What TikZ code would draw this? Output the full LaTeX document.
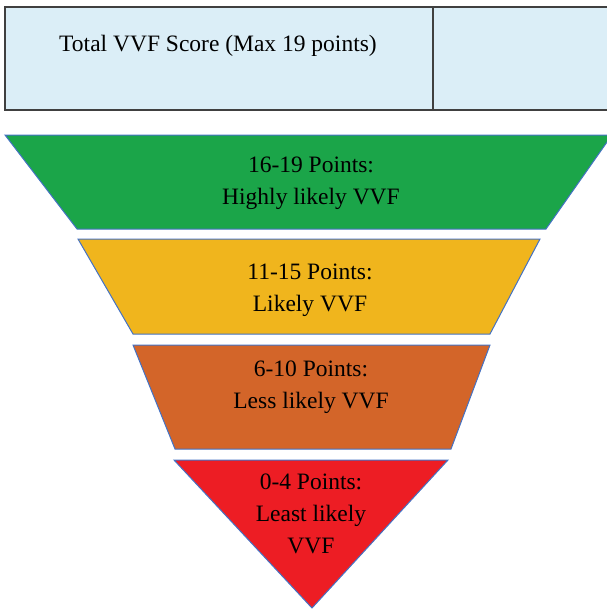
\documentclass[tikz,border=0pt]{standalone}
\usepackage{fontspec}
\setmainfont{Liberation Serif}
\usepackage{tikz}
\definecolor{H}{RGB}{27,165,73}
\definecolor{L}{RGB}{240,181,29}
\definecolor{S}{RGB}{211,101,41}
\definecolor{T}{RGB}{237,29,36}
\definecolor{B}{RGB}{219,238,247}
\definecolor{E}{RGB}{68,114,196}
\newcommand{\drawlevel}[2]{\draw[E, line width=1pt, fill=#1] #2;}
\newcommand{\levelnode}[4]{\node[align=center, font=\fontsize{23.5}{32}\selectfont] (#1) at (#2,#3) {#4};}

\begin{document}
\begin{tikzpicture}[x=1pt,y=-1pt]
\useasboundingbox (0,0) rectangle (606,611);
\draw[line width=2pt, draw={rgb,255:red,64;green,64;blue,64}, fill=B] (5,7) rectangle (620,110);
    \draw[line width=2pt, draw={rgb,255:red,64;green,64;blue,64}] (433,7)--(433,110);
\drawlevel{H}{(5,135)--(612,135)--(546,229)--(77,229)--cycle}
    \drawlevel{L}{(78,239)--(540,239)--(490,334)--(133,334)--cycle}
    \drawlevel{S}{(133,345)--(490,345)--(451,449)--(175,449)--cycle}
    \drawlevel{T}{(174,460)--(448,460)--(312,608)--cycle}
\node[font=\fontsize{23.5}{32}\selectfont] (score) at (218,46) {Total VVF Score (Max 19 points)};
\levelnode{high}{311}{183}{16-19 Points:\\ Highly likely VVF}\levelnode{likely}{310}{290}{11-15 Points:\\ Likely VVF}\levelnode{less}{311}{387}{6-10 Points:\\ Less likely VVF}\levelnode{least}{311}{514}{0-4 Points:\\ Least likely\\ VVF}\end{tikzpicture}
\end{document}
